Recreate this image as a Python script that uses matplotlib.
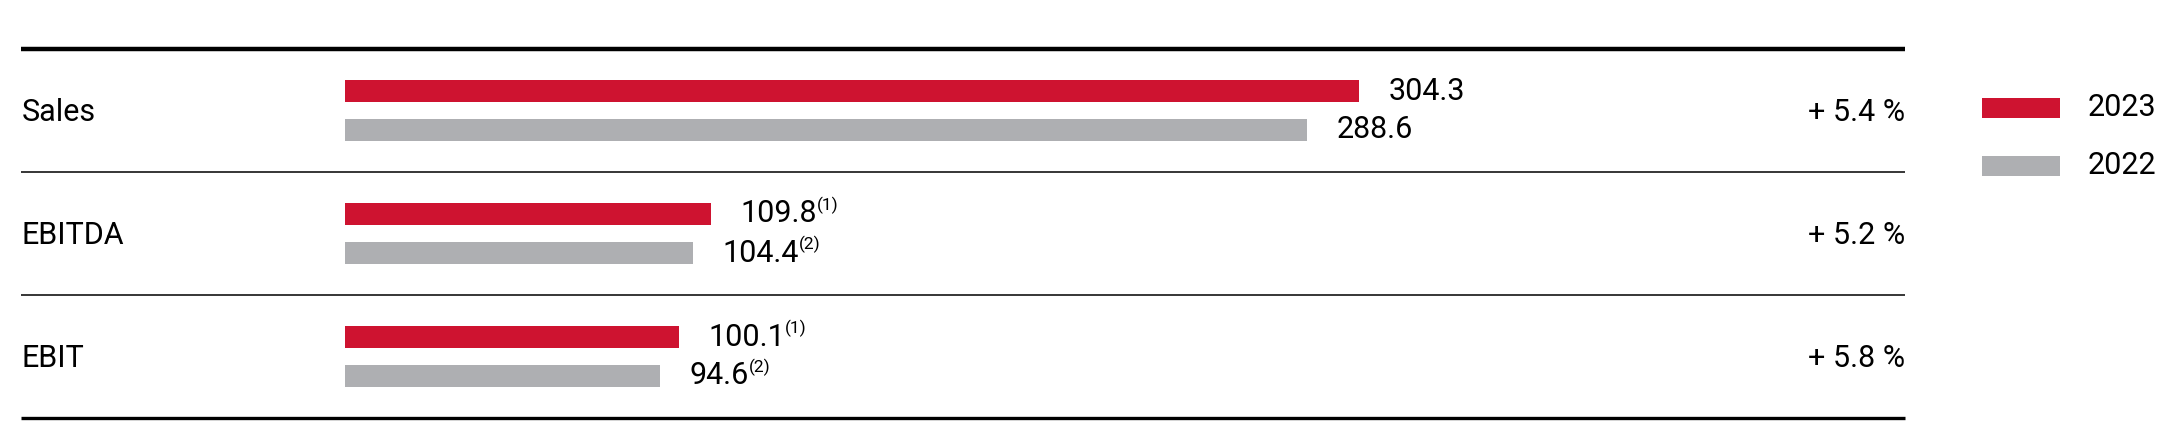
import matplotlib.pyplot as plt
from matplotlib.patches import Rectangle

categories = ["Sales", "EBITDA", "EBIT"]
values_2023 = [304.3, 109.8, 100.1]
values_2022 = [288.6, 104.4, 94.6]
notes_2023 = ["", "(1)", "(1)"]
notes_2022 = ["", "(2)", "(2)"]
changes = ["+ 5.4 %", "+ 5.2 %", "+ 5.8 %"]
years = ["2023", "2022"]

RED = "#CE1330"
GREY = "#AEAFB2"
plt.rcParams['font.family'] = ["Roboto", "DejaVu Sans"]

W, H = 2179, 421
fig = plt.figure(figsize=(W / 100, H / 100), dpi=100)
ax = fig.add_axes([0, 0, 1, 1])
# x in data units, y in pixels from the top
x0, scale = 345, 3.333
ax.set_xlim(-x0 / scale, (W - x0) / scale)
ax.set_ylim(H, 0)
ax.axis('off')

def px(x):
    return (x - x0) / scale

top, bottom = 49, 418
row_h = (bottom - top) / len(categories)
left_px, right_px = 21, 1905

ax.plot([px(left_px), px(right_px)], [top, top], color='black', lw=3.2, solid_capstyle='butt')
for i in range(1, len(categories)):
    y = top + i * row_h
    ax.plot([px(left_px), px(right_px)], [y, y], color='black', lw=1.1, solid_capstyle='butt')
ax.plot([px(left_px), px(right_px)], [bottom, bottom], color='black', lw=2.4, solid_capstyle='butt')

fs = 22
for i, cat in enumerate(categories):
    yc = top + (i + 0.5) * row_h
    ax.barh(yc - 19.5, values_2023[i], height=22, color=RED, left=0)
    ax.barh(yc + 19.5, values_2022[i], height=22, color=GREY, left=0)
    ax.text(px(22), yc + 2, cat, fontsize=fs, va='center', ha='left')
    for v, note, dy in [(values_2023[i], notes_2023[i], -19.5), (values_2022[i], notes_2022[i], 19.5)]:
        t = ax.text(v + 8.8, yc + dy, f"{v:.1f}", fontsize=fs, va='center', ha='left')
        if note:
            ax.annotate(note, xy=(1, 1), xycoords=t, xytext=(0, 2),
                        textcoords='offset points', fontsize=12.5, va='top', ha='left')
    ax.text(px(right_px), yc + 2, changes[i], fontsize=fs, va='center', ha='right')

# legend
for j, (yr, col) in enumerate(zip(years, [RED, GREY])):
    yc = 107.5 + j * 58.5
    ax.add_patch(Rectangle((px(1982), yc - 10), 78 / scale, 20, color=col, lw=0))
    ax.text(px(2088), yc, yr, fontsize=fs, va='center', ha='left')

fig.savefig("out.png", dpi=100)
